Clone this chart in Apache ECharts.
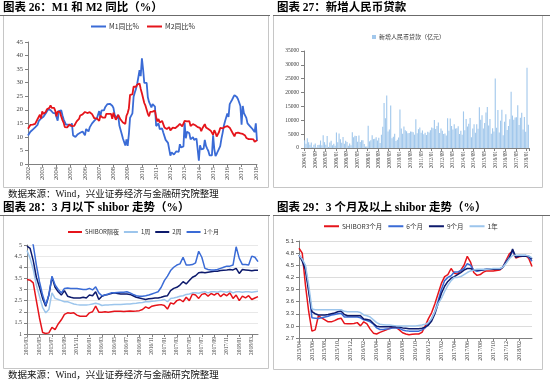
<!DOCTYPE html>
<html><head><meta charset="utf-8">
<script src="https://cdn.jsdelivr.net/npm/echarts@6/dist/echarts.min.js"></script>
<style>html,body{margin:0;padding:0;background:#fff}#c{width:550px;height:383px}</style>
</head><body><div id="c"></div>
<script>
function monthCats(y0, m0, n, sep) {
  const a = [];
  for (let i = 0; i < n; i++) {
    const y = y0 + Math.floor((m0 - 1 + i) / 12), m = (m0 - 1 + i) % 12 + 1;
    a.push(y + sep + String(m).padStart(2, '0'));
  }
  return a;
}
function halfMonthCats(y0, m0, n) {
  const a = [];
  for (let i = 0; i < n; i++) {
    const k = Math.floor(i / 2);
    const y = y0 + Math.floor((m0 - 1 + k) / 12), m = (m0 - 1 + k) % 12 + 1;
    a.push(y + '/' + String(m).padStart(2, '0') + '/' + (i % 2 ? '16' : '01'));
  }
  return a;
}

// ---------- Chart 26: M1 / M2 YoY (monthly 2002/01 - 2018/02) ----------
const m12Cats = monthCats(2002, 1, 194, '-');
const m1Yoy = [
10.5,10.0,11.9,12.5,12.7,13.4,13.5,13.8,14.4,15.8,15.9,16.8,
17.5,17.4,18.0,18.7,19.1,20.2,20.2,19.9,20.0,18.9,18.6,18.7,
19.0,16.0,19.5,20.0,19.8,18.0,16.5,15.8,14.5,14.0,14.5,13.8,
14.0,15.0,10.5,10.0,10.0,10.5,11.0,11.3,11.5,11.8,12.0,11.8,
10.6,12.9,12.5,12.0,13.5,14.0,15.0,15.5,16.0,16.3,16.8,17.5,
19.5,17.5,19.8,19.3,19.8,20.9,20.7,22.1,22.1,22.2,22.5,21.5,
20.7,18.2,18.3,16.9,18.1,14.2,14.0,11.1,9.4,8.9,6.8,9.1,
6.7,10.9,17.0,17.5,18.7,24.8,26.4,27.7,29.5,32.0,34.6,32.4,
39.0,34.9,29.9,30.0,29.9,24.6,22.9,21.9,20.9,22.1,22.2,21.2,
14.0,14.5,15.0,12.9,12.7,13.1,11.6,11.2,8.9,8.4,7.8,7.9,
3.1,4.3,4.4,3.5,3.5,4.7,4.6,4.5,7.3,6.1,5.5,6.5,
15.3,9.5,11.9,11.9,11.3,9.1,9.7,9.9,8.9,8.9,9.4,9.3,
1.2,6.9,5.4,5.3,5.7,8.9,6.7,5.7,4.8,3.2,3.2,3.2,
10.6,5.6,2.9,3.7,4.7,4.3,6.6,9.3,11.4,14.0,15.7,15.2,
18.6,17.4,22.1,22.9,23.7,24.6,25.4,25.3,24.7,23.9,22.7,21.4,
14.5,21.4,18.8,18.5,17.0,15.0,15.3,14.0,14.0,13.0,12.7,11.8,
15.0,8.5];
const m2Yoy = [
13.0,13.1,14.4,14.0,14.5,14.7,14.8,15.5,16.5,17.0,18.2,16.8,
19.4,18.5,18.5,19.2,20.2,20.8,20.7,21.6,20.7,20.4,20.7,19.6,
17.6,19.4,19.1,19.1,17.5,16.2,15.3,13.6,13.9,13.5,14.0,14.6,
14.1,14.0,14.0,14.1,14.6,15.7,16.3,16.6,17.9,18.0,18.3,17.6,
19.2,18.8,18.8,18.9,19.1,18.4,18.4,17.9,16.8,17.1,16.8,16.9,
15.9,17.8,17.3,17.1,16.7,17.1,18.5,18.1,18.5,18.5,18.5,16.7,
18.9,17.5,16.3,16.9,18.1,17.4,16.4,16.0,15.3,15.0,14.8,17.8,
18.8,20.5,25.5,26.0,25.7,28.5,28.4,28.5,29.3,29.4,29.7,27.7,
26.1,25.5,22.5,21.5,21.0,18.5,17.6,19.2,19.0,19.3,19.5,19.7,
17.2,15.7,16.6,15.3,15.1,15.9,14.7,13.5,13.0,12.9,12.7,13.6,
12.4,13.0,13.4,12.8,13.2,13.6,13.9,13.5,14.8,14.1,13.9,13.8,
15.9,15.2,15.7,16.1,15.8,14.0,14.5,14.7,14.2,14.3,14.2,13.6,
13.2,13.3,12.1,13.2,13.4,14.7,13.5,12.8,12.9,12.6,12.3,12.2,
10.8,12.5,11.6,10.1,10.8,11.8,13.3,13.3,13.1,13.5,13.7,13.3,
14.0,13.3,13.4,12.8,11.8,11.8,10.2,11.4,11.5,11.6,11.4,11.3,
11.3,11.1,10.6,10.5,9.6,9.4,9.2,8.9,9.2,8.8,9.1,8.2,
8.6,8.8];

// ---------- Chart 27: new RMB loans (monthly 2004/01 - 2018/02, 亿元) ----------
const loanCats = monthCats(2004, 1, 170, '/');
const newLoans = [
2800,1500,3500,2100,1200,2000,300,1200,1600,200,1100,1200,
2700,1000,4600,2100,1200,4300,400,2000,2600,1000,1500,800,
5600,2100,5200,3200,1900,4000,1500,2600,2200,800,1600,1000,
5700,3900,4400,4300,2300,4500,2200,2800,2800,1400,500,500,
8000,2400,2800,4600,3200,3300,3900,2700,3700,1800,4800,7700,
16200,10700,18900,5918,6645,15304,3559,4104,5167,2530,2948,3798,
13900,7000,5107,7740,6394,6034,5328,5452,5955,5872,5640,4807,
10400,5356,6794,7396,5516,6339,4922,5485,4700,5868,5622,6405,
7381,7107,10100,6818,7932,9198,5401,7039,6232,5053,5229,4543,
10700,6200,10600,7929,6674,8605,6999,7135,7870,5061,6246,4825,
13200,6445,10500,7747,8708,10800,3852,7025,8572,5483,8527,6973,
14700,10200,11800,7079,9008,12800,14800,8096,10500,5136,7089,5978,
25100,7266,13700,5556,9855,13800,4636,9487,12200,6513,7946,10400,
20300,11700,10200,11000,11100,15400,8255,10900,12700,6632,11200,5844,
29000,8400];

// ---------- Chart 28: shibor <= 1M (half-monthly 2015/03 - 2018/04) ----------
const s28Cats = halfMonthCats(2015, 3, 75);
const shiborON = [3.45,3.42,3.3,2.5,1.72,1.07,1.02,1.05,1.3,1.2,
1.45,1.64,1.88,1.95,1.93,1.95,1.85,1.8,1.8,1.8,
1.95,2.0,2.25,1.98,1.98,2.0,1.98,2.0,2.02,2.02,
2.02,2.01,2.02,2.03,2.02,2.03,2.05,2.1,2.22,2.15,
2.25,2.28,2.3,2.32,2.28,2.12,2.4,2.35,2.5,2.55,
2.45,2.65,2.5,2.8,2.75,2.6,2.78,2.82,2.7,2.82,
2.75,2.85,2.68,2.8,2.72,2.85,2.6,2.75,2.5,2.7,
2.62,2.72,2.55,2.62,2.68];
const shibor1W = [4.75,4.4,3.9,3.2,2.7,2.2,1.95,2.1,2.85,2.6,
2.55,2.5,2.45,2.45,2.4,2.35,2.32,2.3,2.3,2.3,
2.32,2.35,2.38,2.35,2.28,2.3,2.3,2.32,2.33,2.33,
2.33,2.34,2.35,2.35,2.37,2.38,2.4,2.42,2.45,2.45,
2.47,2.48,2.5,2.52,2.55,2.45,2.6,2.62,2.65,2.7,
2.72,2.78,2.8,2.85,2.85,2.83,2.88,2.9,2.85,2.9,
2.9,2.88,2.92,2.9,2.88,2.92,2.85,2.9,2.9,2.88,
2.9,2.9,2.88,2.9,2.92];
const shibor2W = [4.95,4.85,4.3,3.55,3.1,2.6,2.25,2.75,3.55,3.1,
2.9,2.75,2.95,2.7,2.65,2.62,2.62,2.62,2.65,2.62,
2.75,2.72,2.9,2.55,2.7,2.75,2.78,2.82,2.85,2.82,
2.8,2.8,2.8,2.78,2.72,2.65,2.62,2.58,2.55,2.58,
2.6,2.62,2.62,2.65,2.7,2.72,2.95,3.05,3.1,3.2,
3.35,3.25,3.4,3.55,3.62,3.75,3.78,3.75,3.78,3.8,
3.82,3.82,3.85,3.87,3.88,3.9,3.88,3.95,3.72,3.9,
3.88,3.86,3.84,3.86,3.87];
const shibor1M = [5.8,5.5,5.0,4.1,3.35,2.75,2.3,2.75,3.6,3.2,
3.0,2.85,3.05,3.07,3.05,3.05,3.04,3.02,3.0,3.0,
3.05,2.98,3.12,2.85,2.72,2.75,2.8,2.85,2.85,2.87,
2.88,2.88,2.9,2.85,2.78,2.72,2.7,2.7,2.72,2.75,
2.8,2.85,2.9,3.1,3.4,3.6,3.85,4.0,4.1,4.15,
4.45,4.1,4.1,4.12,4.2,4.72,4.45,3.95,3.9,3.88,
3.88,3.9,3.95,4.0,4.05,4.05,4.1,4.92,4.4,4.12,
4.12,4.1,4.5,4.45,4.25];

// ---------- Chart 29: shibor >= 3M (half-monthly 2015/04 - 2018/04) ----------
const s29Cats = halfMonthCats(2015, 4, 73);
const shibor3M = [4.92,4.8,4.0,3.35,2.87,2.9,3.25,3.2,3.15,3.1,
3.1,3.13,3.17,3.19,3.06,3.05,3.05,3.06,3.08,3.0,
3.1,3.05,2.92,2.82,2.8,2.84,2.87,2.9,2.94,2.96,
2.96,2.9,2.83,2.8,2.78,2.79,2.8,2.8,2.84,3.0,
3.18,3.33,3.55,3.8,4.05,4.22,4.27,4.42,4.3,4.28,
4.38,4.5,4.72,4.58,4.32,4.25,4.27,4.33,4.36,4.36,
4.36,4.37,4.38,4.45,4.62,4.78,4.85,4.68,4.71,4.72,
4.74,4.67,4.47];
const shibor6M = [4.75,4.65,4.45,3.9,3.2,3.19,3.18,3.2,3.22,3.24,
3.27,3.28,3.3,3.31,3.22,3.22,3.22,3.22,3.22,3.2,
3.15,3.13,3.1,3.04,2.95,2.91,2.91,2.92,2.93,2.95,
2.95,2.94,2.9,2.88,2.87,2.87,2.87,2.87,2.9,2.95,
3.05,3.18,3.35,3.62,3.9,4.12,4.2,4.24,4.33,4.33,
4.37,4.42,4.54,4.5,4.38,4.35,4.37,4.39,4.4,4.4,
4.4,4.4,4.4,4.46,4.6,4.7,4.85,4.72,4.74,4.74,
4.74,4.7,4.6];
const shibor9M = [4.75,4.6,4.38,3.85,3.35,3.3,3.27,3.27,3.27,3.28,
3.3,3.32,3.35,3.37,3.28,3.25,3.25,3.25,3.25,3.25,
3.17,3.16,3.14,3.06,2.99,2.98,2.98,2.98,2.98,2.98,
2.98,2.97,2.95,2.94,2.93,2.93,2.93,2.93,2.94,2.97,
3.02,3.12,3.3,3.55,3.8,3.98,4.1,4.18,4.22,4.27,
4.32,4.38,4.42,4.42,4.38,4.38,4.38,4.39,4.4,4.4,
4.4,4.4,4.4,4.45,4.58,4.68,4.9,4.7,4.72,4.72,
4.72,4.72,4.65];
const shibor1Y = [4.75,4.65,4.5,4.0,3.42,3.4,3.4,3.4,3.4,3.4,
3.4,3.4,3.4,3.4,3.36,3.35,3.35,3.35,3.35,3.33,
3.27,3.25,3.22,3.15,3.08,3.04,3.03,3.02,3.02,3.01,
3.0,3.0,3.0,3.0,3.0,3.0,3.0,3.01,3.02,3.04,
3.08,3.18,3.35,3.55,3.68,3.85,4.0,4.12,4.2,4.2,
4.22,4.27,4.32,4.36,4.38,4.4,4.4,4.4,4.4,4.41,
4.42,4.42,4.42,4.45,4.55,4.66,4.74,4.75,4.75,4.75,
4.75,4.73,4.68];

// ---------- styling ----------
const RED = '#E5141B', BLUE = '#3A6BD6', NAVY = '#0D1A6C', LBLUE = '#9CC5EC', BAR = '#A2C8EC';
const SERIF = '"Liberation Serif","Noto Sans CJK SC"';
const SANS = '"Liberation Sans","Noto Sans CJK SC"';
const CJK = '"Noto Sans CJK SC"';
const AX = '#808080';

function yAx(gi, min, max, itv, fs, extra) {
  return Object.assign({
    gridIndex: gi, type: 'value', min: min, max: max, interval: itv,
    axisLine: { show: true, lineStyle: { color: AX } },
    axisTick: { show: true, length: 3, lineStyle: { color: AX } },
    splitLine: { show: false },
    axisLabel: { fontSize: fs, margin: 5, color: '#404040', fontFamily: SERIF, formatter: (v) => String(v) }
  }, extra || {});
}
function xAx(gi, data, gap, itv, fmt, fs, extra) {
  return Object.assign({
    gridIndex: gi, type: 'category', data: data, boundaryGap: gap,
    axisLine: { show: true, lineStyle: { color: AX } },
    axisTick: { show: true, interval: itv, length: 3, lineStyle: { color: AX } },
    axisLabel: { interval: itv, formatter: fmt, rotate: 90, fontSize: fs, margin: 3,
                 color: '#404040', fontFamily: SERIF, hideOverlap: false }
  }, extra || {});
}
function lineS(name, xi, data, color, w) {
  return { name: name, type: 'line', xAxisIndex: xi, yAxisIndex: xi, data: data,
           showSymbol: false, symbol: 'none', color: color,
           lineStyle: { color: color, width: w } };
}
function lg(left, top, names, fs, iw, gap) {
  return { left: left, top: top, padding: 0, itemGap: gap, itemWidth: iw, itemHeight: 2,
           icon: 'rect', data: names,
           textStyle: { fontSize: fs, color: '#333', fontFamily: CJK, padding: [0, 0, 0, -2] } };
}

const titleStyle = { fontSize: 11.5, fontWeight: 'bold', fontFamily: SERIF, fill: '#000' };
const footStyle = { fontSize: 9.5, fontFamily: SERIF, fill: '#111' };
function txt(x, y, s, st) { return { type: 'text', x: x, y: y, style: Object.assign({ text: s }, st) }; }
function hl(x1, x2, y, c) { return { type: 'line', shape: { x1: x1, y1: y, x2: x2, y2: y }, style: { stroke: c, lineWidth: 1 } }; }
function box(x, y, w, h) { return { type: 'rect', shape: { x: x, y: y, width: w, height: h }, style: { fill: 'none', stroke: '#c6c6c6', lineWidth: 1 } }; }

const option = {
  animation: false,
  backgroundColor: '#fff',
  grid: [
    { left: 28, top: 42, width: 229, height: 122, outerBoundsMode: 'none' },
    { left: 304, top: 51, width: 225, height: 97, outerBoundsMode: 'none' },
    { left: 27, top: 245, width: 231, height: 89, outerBoundsMode: 'none' },
    { left: 299, top: 241, width: 233, height: 97, outerBoundsMode: 'none' }
  ],
  xAxis: [
    xAx(0, m12Cats, false, (i) => i % 12 === 0, (v) => v.slice(0, 4), 6.5),
    xAx(1, loanCats, true, 7, (v) => v, 5.3),
    xAx(2, s28Cats, false, (i) => i % 4 === 0, (v) => v.slice(0, 7), 5.5),
    xAx(3, s29Cats, false, (i) => i % 4 === 0 && i < 72, (v) => v.slice(0, 7), 6)
  ],
  yAxis: [
    yAx(0, 0, 45, 5, 6.5),
    yAx(1, 0, 35000, 5000, 5.5),
    yAx(2, 1, 5, 0.5, 6, { splitLine: { show: true, lineStyle: { color: '#e8e8e8' } } }),
    yAx(3, 2.7, 5.1, 0.3, 6, { splitLine: { show: true, lineStyle: { color: '#dcdcdc' } },
        axisLabel: { fontSize: 6, margin: 5, color: '#404040', fontFamily: SANS, formatter: (v) => v.toFixed(1) } })
  ],
  legend: [
    lg(91, 23, ['M1同比%', 'M2同比%'], 7, 15, 8),
    Object.assign(lg(372, 34, ['新增人民币贷款（亿元）'], 6, 4, 6), { itemHeight: 4 }),
    lg(68, 229, ['SHIBOR隔夜', '1周', '2周', '1个月'], 6, 14, 5),
    lg(324, 223, ['SHIBOR3个月', '6个月', '9个月', '1年'], 6.5, 15, 6)
  ],
  series: [
    lineS('M1同比%', 0, m1Yoy, BLUE, 1.8),
    lineS('M2同比%', 0, m2Yoy, RED, 1.8),
    { name: '新增人民币贷款（亿元）', type: 'bar', xAxisIndex: 1, yAxisIndex: 1, data: newLoans,
      color: BAR, barCategoryGap: '15%', itemStyle: { color: BAR } },
    lineS('SHIBOR隔夜', 2, shiborON, RED, 1.5),
    lineS('1周', 2, shibor1W, LBLUE, 1.5),
    lineS('2周', 2, shibor2W, NAVY, 1.5),
    lineS('1个月', 2, shibor1M, BLUE, 1.5),
    lineS('SHIBOR3个月', 3, shibor3M, RED, 1.5),
    lineS('6个月', 3, shibor6M, BLUE, 1.5),
    lineS('9个月', 3, shibor9M, NAVY, 1.5),
    lineS('1年', 3, shibor1Y, LBLUE, 1.5)
  ],
  graphic: [
    box(3.5, 15.5, 265, 172),
    box(273.5, 15.5, 269, 172),
    box(3.5, 215.5, 265, 153),
    box(273.5, 215.5, 269, 154),
    hl(0, 270, 15.5, '#6b6b6b'),
    hl(273, 550, 15.5, '#6b6b6b'),
    hl(0, 270, 215.5, '#6b6b6b'),
    hl(273, 550, 215.5, '#6b6b6b'),
    txt(3, 2, '图表 26：M1 和 M2 同比（%）', titleStyle),
    txt(277, 2, '图表 27：新增人民币贷款', titleStyle),
    txt(3, 202, '图表 28：3 月以下 shibor 走势（%）', titleStyle),
    txt(277, 202, '图表 29：3 个月及以上 shibor 走势（%）', titleStyle),
    txt(8, 190, '数据来源：Wind，兴业证券经济与金融研究院整理', footStyle),
    txt(8, 371, '数据来源：Wind，兴业证券经济与金融研究院整理', footStyle)
  ]
};
const chart = echarts.init(document.getElementById('c'), null, { renderer: 'canvas' });
chart.setOption(option);
</script></body></html>
